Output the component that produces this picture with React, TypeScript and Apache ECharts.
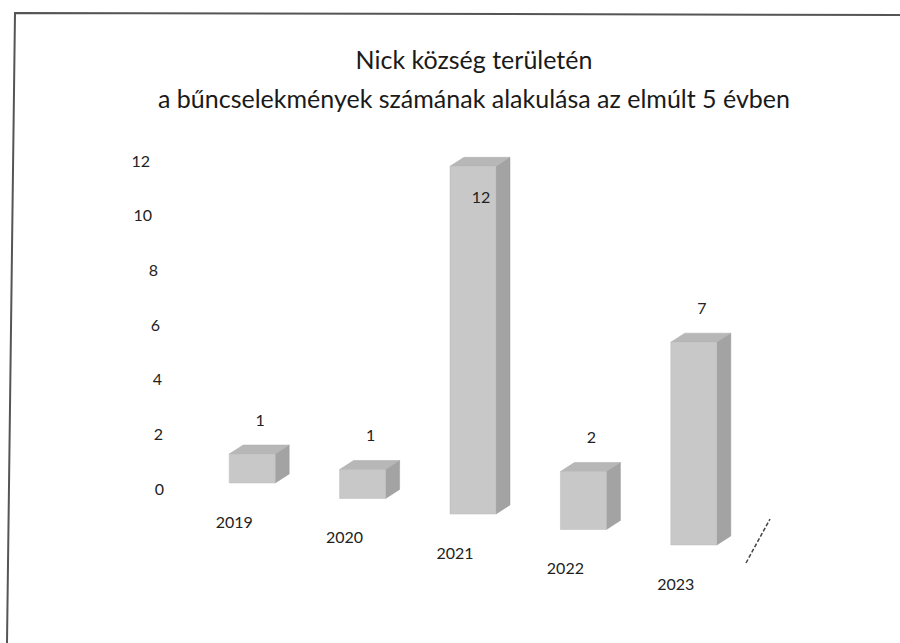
import { useEffect, useRef } from "react";
import * as echarts from "echarts";

const categories = ["2019", "2020", "2021", "2022", "2023"];
const values = [1, 1, 12, 2, 7];
const titleLines = [
  "Nick község területén",
  "a bűncselekmények számának alakulása az elmúlt 5 évben",
];
const yMin = 0;
const yMax = 12;
const yInterval = 2;

export default function App() {
  const ref = useRef<HTMLDivElement>(null);
  useEffect(() => {
    document.body.style.margin = "0";
    const chart = echarts.init(ref.current!, null, { renderer: "svg" });
    const FONT = "Lato";
    const labelShift: Record<string, number> = { "12": 14, "10": 12, "8": 6, "6": 4, "4": 2, "2": 1, "0": 0 };
    const rich: Record<string, any> = {};
    for (let v = yMin; v <= yMax; v += yInterval) {
      rich["s" + v] = {
        fontSize: 16,
        fontFamily: FONT,
        color: "#222",
        padding: [0, labelShift[String(v)] || 0, 0, 0],
      };
    }
    const option: any = {
      animation: false,
      backgroundColor: "#fff",
      title: {
        text: titleLines.join("\n"),
        left: 469,
        textAlign: "center",
        top: 34,
        textStyle: {
          fontFamily: FONT,
          fontSize: 25,
          fontWeight: "normal",
          color: "#1a1a1a",
          lineHeight: 39,
        },
      },
      grid: { left: 202, right: 146, top: 160, bottom: 155 },
      xAxis: {
        type: "category",
        data: categories,
        axisLine: { show: false },
        axisTick: { show: false },
        axisLabel: { show: false },
        splitLine: { show: false },
      },
      yAxis: {
        type: "value",
        min: yMin,
        max: yMax,
        interval: yInterval,
        axisLine: { show: false },
        axisTick: { show: false },
        splitLine: { show: false },
        axisLabel: {
          margin: 38,
          align: "right",
          formatter: (v: number) => `{s${v}|${v}}`,
          rich,
        },
      },
      graphic: [
        {
          type: "polyline",
          shape: { points: [[7, 643], [15, 13], [900, 15]] },
          style: { stroke: "#555", lineWidth: 2, fill: "none" },
        },
        {
          type: "line",
          shape: { x1: 746, y1: 563, x2: 770, y2: 519 },
          style: { stroke: "#444", lineWidth: 1.5, lineDash: [4, 2] },
        },
      ],
      series: [
        {
          type: "custom",
          data: values.map((v, i) => [i, v]),
          encode: { x: 0, y: 1 },
          renderItem: (params: any, api: any) => {
            const i = api.value(0);
            const v = api.value(1);
            const p0 = api.coord([i, 0]);
            const p1 = api.coord([i, v]);
            const off = -5 + 15.5 * i;
            const s = 1.06;
            const bottom = p0[1] + off;
            const h = (p0[1] - p1[1]) * s;
            const top = bottom - h;
            const xl = p0[0] - 28;
            const fw = 46;
            const dx = 14;
            const dy = 9;
            let ly = top - dy - 26;
            if (ly < 165) ly = top + 30;
            return {
              type: "group",
              children: [
                {
                  type: "polygon",
                  shape: {
                    points: [
                      [xl + fw, top],
                      [xl + fw + dx, top - dy],
                      [xl + fw + dx, bottom - dy],
                      [xl + fw, bottom],
                    ],
                  },
                  style: { fill: "#a3a3a3", stroke: "#999", lineWidth: 0.5 },
                },
                {
                  type: "polygon",
                  shape: {
                    points: [
                      [xl, top],
                      [xl + fw, top],
                      [xl + fw + dx, top - dy],
                      [xl + dx, top - dy],
                    ],
                  },
                  style: { fill: "#b7b7b7", stroke: "#aaa", lineWidth: 0.5 },
                },
                {
                  type: "rect",
                  shape: { x: xl, y: top, width: fw, height: bottom - top },
                  style: { fill: "#c8c8c8", stroke: "#bbb", lineWidth: 0.5 },
                },
                {
                  type: "text",
                  style: {
                    text: String(v),
                    x: xl + fw / 2 + 8,
                    y: ly,
                    align: "center",
                    verticalAlign: "middle",
                    fontSize: 16,
                    fontFamily: FONT,
                    fill: "#222",
                  },
                },
                {
                  type: "text",
                  style: {
                    text: categories[i],
                    x: xl + 5,
                    y: bottom + 38,
                    align: "center",
                    verticalAlign: "middle",
                    fontSize: 16,
                    fontFamily: FONT,
                    fill: "#222",
                  },
                },
              ],
            };
          },
        },
      ],
    };
    chart.setOption(option);
    return () => chart.dispose();
  }, []);
  return <div ref={ref} style={{ width: 900, height: 643 }} />;
}
